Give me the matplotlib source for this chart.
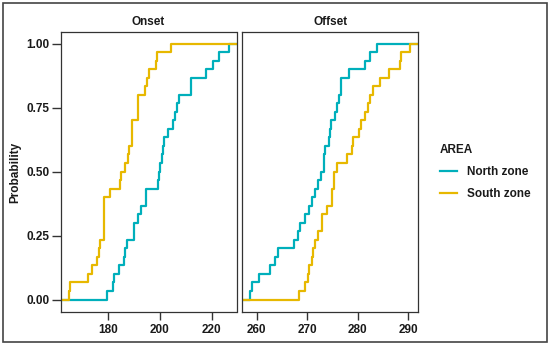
import numpy as np
import matplotlib
matplotlib.use("Agg")
import matplotlib.pyplot as plt
from matplotlib.patches import Rectangle

plt.rcParams['font.family'] = ['Liberation Sans', 'DejaVu Sans']
plt.rcParams['font.weight'] = 'bold'

onset_north = [179.7, 181.9, 182.3, 184.5, 186.1, 186.8, 187.3, 190.0, 190.1, 191.5,
               192.8, 194.6, 194.7, 199.2, 199.6, 200.1, 200.8, 201.4, 201.5, 203.1,
               205.0, 205.9, 206.7, 207.5, 211.8, 211.8, 217.8, 220.6, 222.9, 226.4]
onset_south = [165.0, 165.5, 172.5, 174.0, 176.0, 176.5, 177.2, 178.4, 178.5, 178.5,
               178.6, 178.7, 180.8, 184.7, 185.1, 186.7, 187.9, 188.3, 189.3, 189.3,
               189.4, 191.5, 191.5, 191.6, 194.5, 195.1, 196.0, 198.6, 198.8, 204.2]
offset_north = [258.7, 259.1, 260.5, 262.6, 263.6, 264.1, 267.4, 268.1, 268.5, 269.5,
                270.3, 270.9, 271.6, 272.2, 272.7, 273.3, 273.4, 273.5, 274.3, 274.5,
                274.7, 275.5, 275.8, 276.2, 276.6, 276.6, 278.3, 281.4, 282.5, 283.8]
offset_south = [268.3, 269.5, 270.1, 270.3, 270.9, 271.1, 271.5, 272.2, 272.9, 272.9,
                273.8, 274.9, 274.9, 275.3, 275.3, 275.8, 277.8, 278.8, 279.1, 280.2,
                280.7, 281.5, 282.0, 282.4, 283.0, 284.3, 286.1, 288.3, 288.6, 290.4]

panels = ["Onset", "Offset"]
zones = ["North zone", "South zone"]
colors = ["#00AFBB", "#E7B800"]
xticks = {"Onset": [180, 200, 220], "Offset": [260, 270, 280, 290]}
data = {"Onset": [onset_north, onset_south], "Offset": [offset_north, offset_south]}

W, H = 550, 345
fig = plt.figure(figsize=(W / 100, H / 100), dpi=100)
txt = '#1a1a1a'
fs = 8.5

def px_axes(x0, y0, x1, y1):
    return fig.add_axes([x0 / W, 1 - y1 / H, (x1 - x0) / W, (y1 - y0) / H])

lefts = [(60.7, 236.5), (242.3, 418.3)]
for i, name in enumerate(panels):
    ax = px_axes(lefts[i][0], 32, lefts[i][1], 312.3)
    allv = np.concatenate([np.array(v) for v in data[name]])
    lo, hi = allv.min(), allv.max()
    pad = 0.05 * (hi - lo)
    xmin, xmax = lo - pad, hi + pad
    for vals, c, lab in zip(data[name], colors, zones):
        v = np.sort(np.array(vals))
        p = np.arange(1, len(v) + 1) / len(v)
        xs = np.concatenate([[xmin], v, [xmax]])
        ys = np.concatenate([[0], p, [1]])
        ax.step(xs, ys, where='post', color=c, lw=1.6, label=lab)
    ax.set_xlim(xmin, xmax)
    ax.set_ylim(-0.05, 1.045)
    ax.set_xticks(xticks[name])
    ax.set_yticks([0, 0.25, 0.5, 0.75, 1.0])
    if i == 0:
        ax.set_yticklabels(["0.00", "0.25", "0.50", "0.75", "1.00"])
        ax.tick_params(axis='y', length=6.5, width=1, color='#333333', pad=1.5,
                       labelsize=fs, labelcolor=txt)
    else:
        ax.tick_params(axis='y', left=False, labelleft=False)
    ax.tick_params(axis='x', length=5.5, width=1, color='#333333', pad=3,
                   labelsize=fs, labelcolor=txt)
    for s in ax.spines.values():
        s.set_color('#333333')
        s.set_linewidth(0.9)
    ax.set_title(name, fontsize=fs, fontweight='bold', color=txt, pad=5)
    if i == 0:
        ax.set_ylabel("Probability", fontsize=fs, fontweight='bold', color=txt, labelpad=4)
        handles, labels = ax.get_legend_handles_labels()

leg = fig.legend(handles, labels, title="AREA", loc='upper left',
                 bbox_to_anchor=(429 / W, 1 - 133 / H), frameon=False,
                 fontsize=fs, title_fontsize=fs, handlelength=1.45,
                 handletextpad=0.85, labelspacing=0.85, alignment='left')
for t in leg.get_texts():
    t.set_color(txt)
leg.get_title().set_color(txt)

fig.patches.append(Rectangle((2.5 / W, 3 / H), (547 - 2.5) / W, (342 - 3) / H,
                             transform=fig.transFigure, fill=False,
                             edgecolor='#444444', lw=1.2))

fig.savefig("out.png", dpi=100)
